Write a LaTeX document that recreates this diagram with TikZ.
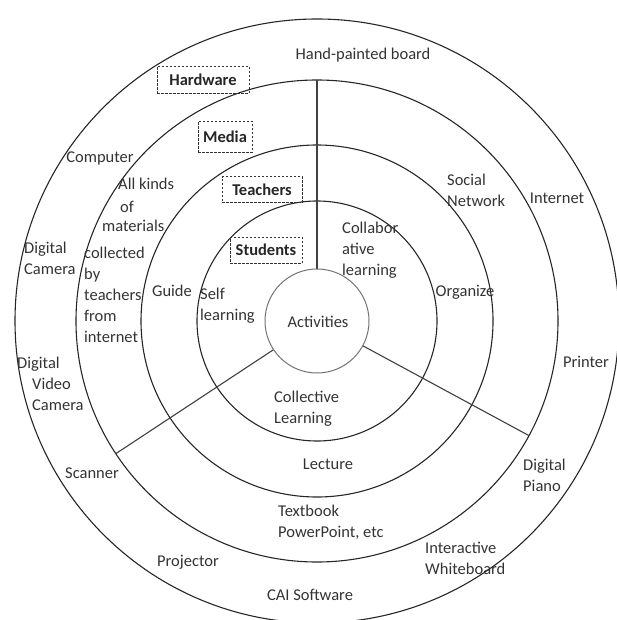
\documentclass[tikz,border=0pt]{standalone}
\usepackage{fontspec}
\setmainfont{Carlito}
\usetikzlibrary{calc}
\begin{document}
\begin{tikzpicture}[x=1pt,y=-1pt,
  ring/.style={draw=black!85, line width=1.1pt},
  spoke/.style={draw=black!75, line width=1.1pt},
  lbl/.style={font=\fontsize{16.5}{21}\selectfont, text=black!80, inner sep=0pt, align=left},
  lblw/.style={lbl, anchor=west},
  layerbox/.style={draw=black!80, dash pattern=on 2.5pt off 1.5pt, line width=1pt,
    font=\bfseries\fontsize{16.5}{20}\selectfont, text=black!85, inner sep=0pt, minimum height=27pt}
]
\useasboundingbox (0,0) rectangle (617,620);
\coordinate (c) at (317,321);
% rings
\draw[ring] (c) circle[radius=302pt];
\draw[ring] (c) circle[radius=241pt];
\draw[ring] (c) circle[radius=176pt];
\draw[ring] (c) circle[radius=120pt];
% spokes
\draw[spoke] ($(c)+(270:52)$) -- ($(c)+(270:241)$);
\draw[spoke] ($(c)+(146.6:52)$) -- ($(c)+(146.6:241)$);
\draw[spoke] ($(c)+(28.4:52)$) -- ($(c)+(28.4:241)$);
% centre
\node[circle, draw=black!55, line width=1pt, minimum size=104pt, inner sep=0pt] (act) at (c) {};
\node[lbl] (actt) at (318,322) {Activities};
% layer boxes
\node[layerbox, minimum width=92pt] (hw) at (203,80) {Hardware};
\node[layerbox, minimum width=54pt, minimum height=31pt] (md) at (225,137) {Media};
\node[layerbox, minimum width=80pt, minimum height=26pt] (tc) at (262,190) {Teachers};
\node[layerbox, minimum width=72pt, minimum height=26pt] (st) at (266,250) {Students};
% hardware ring
\node[lbl] (hand) at (363,55) {Hand-painted board};
\node[lbl] (comp) at (100,158) {Computer};
\node[lblw] (dcam) at (24,258) {Digital\\Camera};
\node[lblw] (dvc) at (17,384) {Digital\\\hspace*{15pt}Video\\\hspace*{15pt}Camera};
\node[lbl] (scan) at (92,473) {Scanner};
\node[lbl] (proj) at (188,562) {Projector};
\node[lbl] (cai) at (310,595) {CAI Software};
\node[lblw] (iwb) at (425,558) {Interactive\\Whiteboard};
\node[lblw] (piano) at (523,475) {Digital\\Piano};
\node[lbl] (print) at (586,362) {Printer};
\node[lbl] (inet) at (557,198) {Internet};
% media ring
\node[lblw] (ak1) at (118,184) {All kinds};
\node[lblw] (ak2) at (120,207) {of};
\node[lblw] (ak3) at (102,226) {materials};
\node[lblw] (coll) at (84,295) {collected\\by\\teachers\\from\\internet};
\node[lblw] (soc) at (447,190) {Social\\Network};
\node[lblw] (text) at (278,522.5) {Textbook\\PowerPoint, etc};
% teachers ring
\node[lbl] (guide) at (172,291) {Guide};
\node[lbl] (org) at (465,292) {Organize};
\node[lbl] (lect) at (328,464) {Lecture};
% students ring
\node[lblw] (self) at (200,305.5) {Self\\learning};
\node[lblw] (colab) at (342,250.5) {Collabor\\ative\\learning};
\node[lblw] (colle) at (274,409) {Collective\\Learning};
\end{tikzpicture}
\end{document}
